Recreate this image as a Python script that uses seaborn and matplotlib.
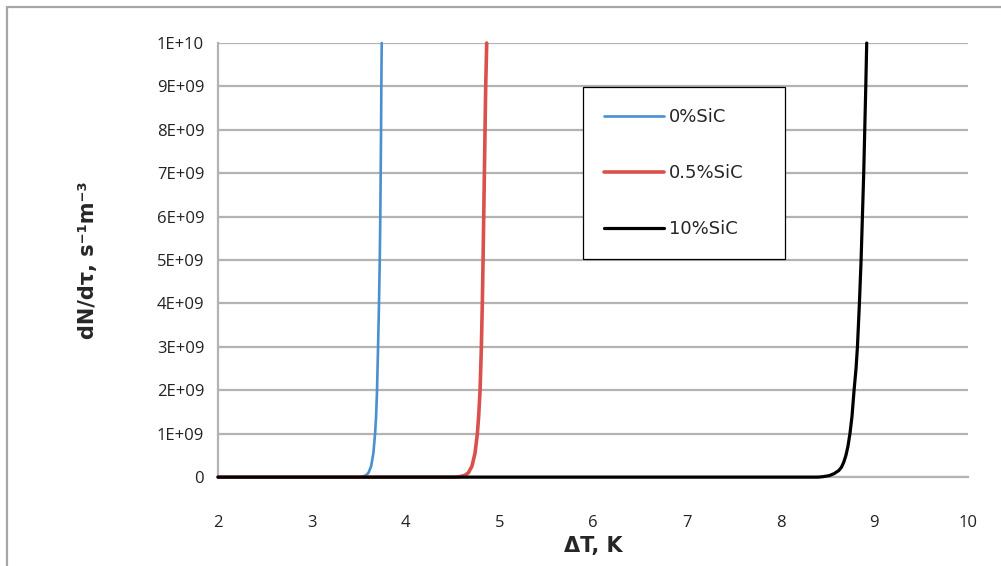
import matplotlib
matplotlib.use('Agg')
import matplotlib.pyplot as plt
import seaborn as sns
from matplotlib.patches import Rectangle

## valores (dT em K, taxa em s^-1 m^-3)
dt_0 = [2.0, 3.50, 3.535, 3.577, 3.605, 3.633, 3.657, 3.675, 3.686, 3.696,
        3.707, 3.717, 3.725, 3.731, 3.735, 3.739, 3.742, 3.746]
taxa_0 = [0, 0, 0.01e9, 0.04e9, 0.1e9, 0.25e9, 0.55e9, 1e9, 1.4e9, 2e9,
          3e9, 4e9, 5e9, 6e9, 7e9, 8e9, 9e9, 10e9]

dt_05 = [2.0, 4.53, 4.574, 4.632, 4.67, 4.708, 4.741, 4.766, 4.780, 4.795,
         4.809, 4.819, 4.827, 4.834, 4.841, 4.848, 4.855, 4.866]
taxa_05 = [0, 0, 0.01e9, 0.04e9, 0.1e9, 0.25e9, 0.55e9, 1e9, 1.4e9, 2e9,
           3e9, 4e9, 5e9, 6e9, 7e9, 8e9, 9e9, 10e9]

dt_10 = [2.0, 8.40, 8.45, 8.52, 8.57, 8.62, 8.65, 8.675, 8.697, 8.718, 8.74,
         8.762, 8.784, 8.805, 8.820, 8.841, 8.859, 8.873, 8.887, 8.898,
         8.909, 8.919]
taxa_10 = [0, 0, 0.01e9, 0.035e9, 0.08e9, 0.15e9, 0.23e9, 0.35e9, 0.5e9,
           0.7e9, 1e9, 1.4e9, 2e9, 2.5e9, 3e9, 4e9, 5e9, 6e9, 7e9, 8e9,
           9e9, 10e9]

rotulos = ['0%SiC', '0.5%SiC', '10%SiC']
cores = ['#4a8fd0', '#d9504d', '#000000']

y_ticks = [i * 1e9 for i in range(11)]
y_labels = ['0'] + [f'{i}E+09' for i in range(1, 10)] + ['1E+10']
x_ticks = [2, 3, 4, 5, 6, 7, 8, 9, 10]

sns.set_style('white')
plt.rcParams['font.family'] = ['Open Sans', 'DejaVu Sans']

fig = plt.figure(figsize=(10.01, 5.66), dpi=100)
ax = fig.add_axes([0.2178, 0.157, 0.7493, 0.767])

series = [(dt_0, taxa_0, 1.9), (dt_05, taxa_05, 2.6), (dt_10, taxa_10, 2.3)]
for (xs, ys, lw), rot, cor in zip(series, rotulos, cores):
    sns.lineplot(x=xs, y=ys, ax=ax, color=cor, linewidth=lw, label=rot,
                 sort=False, estimator=None, clip_on=False, zorder=4)

ax.set_xlim(2, 10)
ax.set_ylim(0, 1e10)
ax.set_xticks(x_ticks)
ax.set_xticklabels([str(v) for v in x_ticks])
ax.set_yticks(y_ticks)
ax.set_yticklabels(y_labels)
ax.tick_params(axis='x', length=0, pad=27, labelsize=12, colors='#222222')
ax.tick_params(axis='y', length=0, pad=10, labelsize=12, colors='#222222')

ax.yaxis.grid(True, color='#b3b3b3', linewidth=1.6)
ax.xaxis.grid(False)
for lado in ['top', 'right']:
    ax.spines[lado].set_visible(False)
for lado in ['left', 'bottom']:
    ax.spines[lado].set_color('#b3b3b3')
    ax.spines[lado].set_linewidth(1.6)
    ax.spines[lado].set_zorder(1)
ax.set_axisbelow(True)

ax.set_xlabel('ΔT, K', fontsize=15, fontweight='bold', labelpad=4,
              family=['DejaVu Sans'])
ax.set_ylabel('dN/dτ, s⁻¹m⁻³', fontsize=15, fontweight='bold', labelpad=42,
              family=['DejaVu Sans'])

## legenda com a largura da caixa original (mode expand)
leg = ax.legend(loc='upper left',
                bbox_to_anchor=(583 / 1001, 1 - 258 / 566, 202 / 1001, 171 / 566),
                bbox_transform=fig.transFigure, borderaxespad=0, mode='expand',
                prop={'family': ['DejaVu Sans'], 'size': 13},
                handlelength=3.3, handletextpad=0.3,
                labelspacing=2.1, borderpad=1.17, fancybox=False,
                frameon=True, edgecolor='black', framealpha=1)
leg.get_frame().set_linewidth(0.9)
leg.set_zorder(6)

## moldura externa da area do grafico
fig.patches.append(Rectangle((7 / 1001, -0.1), 1.1, 1.1 - 7 / 566,
                             transform=fig.transFigure, fill=False,
                             edgecolor='#a6a6a6', linewidth=1.6))

fig.savefig('out.png', dpi=100)
